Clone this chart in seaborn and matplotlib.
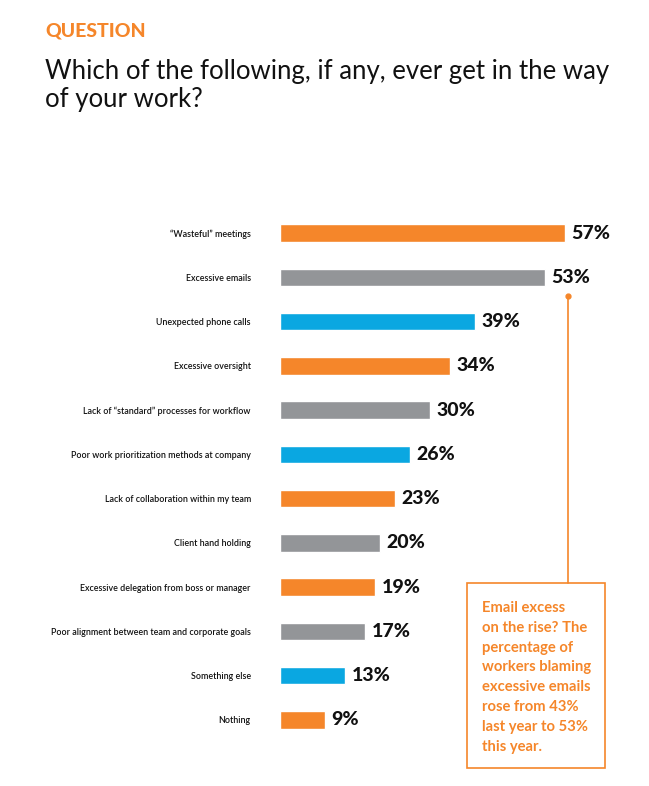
import matplotlib
matplotlib.use("Agg")
import matplotlib.pyplot as plt
import seaborn as sns
import pandas as pd

# survey answers, top to bottom
categories = [
    "\u201cWasteful\u201d meetings",
    "Excessive emails",
    "Unexpected phone calls",
    "Excessive oversight",
    "Lack of \u201cstandard\u201d processes for workflow",
    "Poor work prioritization methods at company",
    "Lack of collaboration within my team",
    "Client hand holding",
    "Excessive delegation from boss or manager",
    "Poor alignment between team and corporate goals",
    "Something else",
    "Nothing",
]
values = [57, 53, 39, 34, 30, 26, 23, 20, 19, 17, 13, 9]
color_keys = ["o", "g", "b", "o", "g", "b", "o", "g", "o", "g", "b", "o"]

orange = "#F5862A"
gray = "#939598"
blue = "#0AA7E1"
palette = {"o": orange, "g": gray, "b": blue}

df = pd.DataFrame({"cat": categories, "val": values, "c": color_keys})

sns.set_style("white")
plt.rcParams["font.family"] = ["Lato", "DejaVu Sans"]

fig = plt.figure(figsize=(6.49, 7.86), dpi=100)
W, H = 649, 786

# axes placed in pixels: bars start at x=280, 5 px per percent
left, top, bottom = 280, 211, 742
ax = fig.add_axes([left / W, 1 - bottom / H, 300 / W, (bottom - top) / H])
sns.barplot(data=df, x="val", y="cat", hue="c", palette=palette, dodge=False,
            legend=False, width=0.39, ax=ax, saturation=1)
ax.set_xlim(0, 60)
ax.set_ylim(len(categories) - 0.5, -0.5)
ax.set_xlabel("")
ax.set_ylabel("")
ax.set_xticks([])
ax.tick_params(axis="y", length=0, pad=21, labelsize=6.4, labelcolor="#111111")
for lab in ax.get_yticklabels():
    lab.set_fontweight("semibold")
for s in ax.spines.values():
    s.set_visible(False)
ax.patch.set_alpha(0)

for i, v in enumerate(values):
    ax.text(v + 1.3, i, f"{v}%", va="center", ha="left", fontsize=14,
            fontweight="black", color="#111111")

# header
fig.text(45 / W, 1 - 31 / H, "QUESTION", color=orange, fontsize=14,
         fontweight="black", va="center", ha="left")
fig.text(45 / W, 1 - 86 / H, "Which of the following, if any, ever get in the way\nof your work?",
         color="#111111", fontsize=18.5, va="center", ha="left", linespacing=1.15)

# callout connector and box
fig.add_artist(plt.Line2D([568 / W, 568 / W], [1 - 296 / H, 1 - 583 / H],
                          color=orange, lw=1.2))
fig.add_artist(plt.Line2D([568 / W], [1 - 296 / H], marker="o", ms=3.5,
                          color=orange))
fig.add_artist(plt.Rectangle((467 / W, 1 - 768 / H), 138 / W, 185 / H,
                             fill=False, edgecolor=orange, lw=1.2))
fig.text(482 / W, 1 - 601 / H,
         "Email excess\non the rise? The\npercentage of\nworkers blaming\nexcessive emails\nrose from 43%\nlast year to 53%\nthis year.",
         color=orange, fontsize=10.6, fontweight="bold", va="top", ha="left",
         linespacing=1.53)

fig.savefig("out.png", dpi=100)
